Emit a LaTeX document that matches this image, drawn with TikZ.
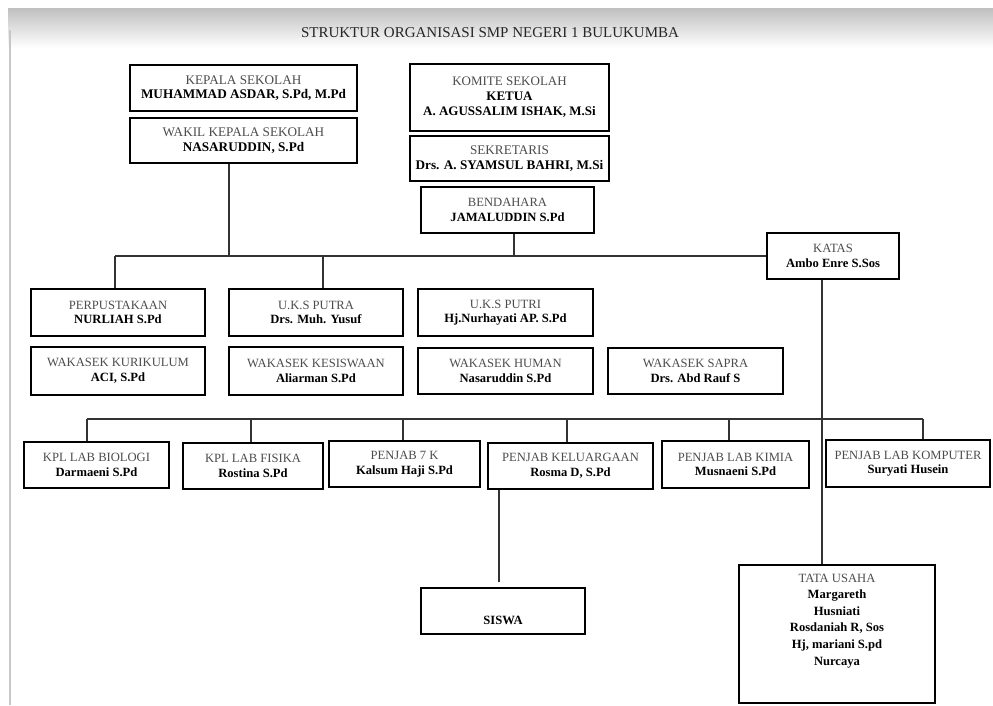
\documentclass[tikz,border=0pt]{standalone}
\usepackage{fontspec}
\setmainfont{Liberation Serif}
\newcommand{\boxhead}[1]{{\color{black!70}#1}}
\begin{document}
\begin{tikzpicture}[x=1pt,y=-1pt,
  box/.style={draw=black, line width=2.2pt, fill=white, align=center, inner sep=0pt,
    font=\fontsize{12.6}{14.5}\selectfont, text=black},
  bigbox/.style={box, font=\fontsize{13.2}{14.5}\selectfont},
  wire/.style={draw=black!80, line width=1.4pt}]
\useasboundingbox (0,0) rectangle (993,705);
\fill[white] (0,0) rectangle (993,705);
\shade[top color=black!25, bottom color=white] (8,8) rectangle (993,48);
\draw[black!22, line width=2pt] (10,30) -- (10,705);

\node[text=black!85, font=\fontsize{15}{18}\selectfont] (title) at (490,33)
  {STRUKTUR ORGANISASI SMP NEGERI 1 BULUKUMBA};

% coordinates of buses
\coordinate (b1L) at (115,256);
\coordinate (b1u) at (323,256);
\coordinate (b2L) at (87,419);
\coordinate (b2f) at (251,419);
\coordinate (b2s) at (403,419);
\coordinate (b2k) at (567,419);
\coordinate (b2m) at (729,419);
\coordinate (b2R) at (923,419);

% boxes
\node[bigbox, minimum width=227, minimum height=46] (kepala) at (243.5,88)
  {\boxhead{KEPALA SEKOLAH}\\\textbf{MUHAMMAD ASDAR, S.Pd, M.Pd}};
\node[bigbox, minimum width=227, minimum height=45] (wakil) at (243.5,140.5)
  {\boxhead{WAKIL KEPALA SEKOLAH}\\\textbf{NASARUDDIN, S.Pd}};
\node[box, minimum width=199, minimum height=67, font=\fontsize{13}{15}\selectfont] (komite) at (509.5,97.5)
  {\boxhead{KOMITE SEKOLAH}\\\textbf{KETUA}\\\textbf{A. AGUSSALIM ISHAK, M.Si}};
\node[bigbox, minimum width=199, minimum height=45] (sekretaris) at (509.5,158.5)
  {\boxhead{SEKRETARIS}\\\textbf{Drs. A. SYAMSUL BAHRI, M.Si}};
\node[box, minimum width=173, minimum height=46] (bendahara) at (507.5,210)
  {\boxhead{BENDAHARA}\\\textbf{JAMALUDDIN S.Pd}};
\node[box, minimum width=132, minimum height=46] (katas) at (833,256)
  {\boxhead{KATAS}\\\textbf{Ambo Enre S.Sos}};

\node[box, minimum width=174, minimum height=47] (perpus) at (118,312.5)
  {\boxhead{PERPUSTAKAAN}\\\textbf{NURLIAH S.Pd}};
\node[box, minimum width=174, minimum height=47] (ukspa) at (316,312.5)
  {\boxhead{U.K.S PUTRA}\\\textbf{Drs. Muh. Yusuf}};
\node[box, minimum width=175, minimum height=47] (ukspi) at (505.5,312.5)
  {\boxhead{U.K.S PUTRI}\\\textbf{Hj.Nurhayati AP. S.Pd}};

\node[box, minimum width=174, minimum height=48] (kurikulum) at (118,371)
  {\boxhead{WAKASEK KURIKULUM}\\\textbf{ACI, S.Pd}};
\node[box, minimum width=174, minimum height=48] (kesiswaan) at (316,371)
  {\boxhead{WAKASEK KESISWAAN}\\\textbf{Aliarman S.Pd}};
\node[box, minimum width=175, minimum height=46] (human) at (505.5,371)
  {\boxhead{WAKASEK HUMAN}\\\textbf{Nasaruddin S.Pd}};
\node[box, minimum width=175, minimum height=46] (sapra) at (695.5,371)
  {\boxhead{WAKASEK SAPRA}\\\textbf{Drs. Abd Rauf S}};

\node[box, minimum width=145, minimum height=46] (biologi) at (96.5,465)
  {\boxhead{KPL LAB BIOLOGI}\\\textbf{Darmaeni S.Pd}};
\node[box, minimum width=140, minimum height=46] (fisika) at (253,466)
  {\boxhead{KPL LAB FISIKA}\\\textbf{Rostina S.Pd}};
\node[box, minimum width=151, minimum height=46] (p7k) at (404.5,464)
  {\boxhead{PENJAB 7 K}\\\textbf{Kalsum Haji S.Pd}};
\node[box, minimum width=165, minimum height=46] (keluargaan) at (570.5,466)
  {\boxhead{PENJAB KELUARGAAN}\\\textbf{Rosma D, S.Pd}};
\node[box, minimum width=147, minimum height=47] (kimia) at (735.5,464.5)
  {\boxhead{PENJAB LAB KIMIA}\\\textbf{Musnaeni S.Pd}};
\node[box, minimum width=164, minimum height=47] (komputer) at (908,463.5)
  {\boxhead{PENJAB LAB KOMPUTER}\\\textbf{Suryati Husein}};

\node[box, minimum width=164, minimum height=46, font=\fontsize{12.6}{16}\selectfont] (siswa) at (503,611)
  {\mbox{}\\[12pt]\textbf{SISWA}};
\node[box, minimum width=196, minimum height=138, font=\fontsize{12.6}{16.6}\selectfont] (tatausaha) at (837,634)
  {\boxhead{TATA USAHA}\\\textbf{Margareth}\\\textbf{Husniati}\\\textbf{Rosdaniah R, Sos}\\
   \textbf{Hj, mariani S.pd}\\\textbf{Nurcaya}\\[12.4pt]\mbox{}};

% connectors
\draw[wire] (b1L) -- (katas.west);
\draw[wire] (b1L) -- (b1L |- perpus.north);
\draw[wire] (b1u) -- (b1u |- ukspa.north);
\draw[wire] ([xshift=-14.5pt]wakil.south) coordinate (w1) -- (w1 |- b1L);
\draw[wire] ([xshift=6.5pt]bendahara.south) coordinate (bd) -- (bd |- b1L);

\draw[wire] (b2L) -- (b2R);
\draw[wire] (b2L) -- (b2L |- biologi.north);
\draw[wire] (b2f) -- (b2f |- fisika.north);
\draw[wire] (b2s) -- (b2s |- p7k.north);
\draw[wire] (b2k) -- (b2k |- keluargaan.north);
\draw[wire] (b2m) -- (b2m |- kimia.north);
\draw[wire] (b2R) -- (b2R |- komputer.north);

\draw[wire] ([xshift=-11pt]katas.south) coordinate (k1) -- (k1 |- tatausaha.north);
\path ([xshift=-71.5pt]keluargaan.south) coordinate (s1);
\path (s1 |- siswa.north) coordinate (s2);
\draw[wire] (s1) -- ([yshift=5pt]s2);
\end{tikzpicture}
\end{document}
